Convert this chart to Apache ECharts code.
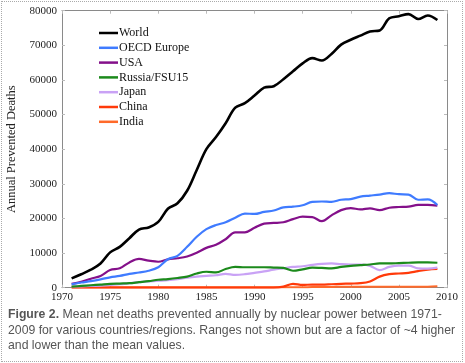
<!DOCTYPE html>
<html>
<head>
<meta charset="utf-8">
<script src="https://cdn.jsdelivr.net/npm/echarts@6/dist/echarts.min.js"></script>
<style>
html,body{margin:0;padding:0;background:#fff;}
#wrap{position:relative;width:465px;height:363px;}
#chart{position:absolute;left:0;top:0;width:465px;height:363px;}
#frame{position:absolute;left:1px;top:1px;width:460px;height:359px;border:1px dotted #aaa;pointer-events:none;}
</style>
</head>
<body>
<div id="wrap"><div id="chart"></div><div id="frame"></div></div>
<script>
var years = [];
for (var y = 1971; y <= 2009; y++) years.push(y);

var world = [2.7,3.9,5.2,7.0,10.2,11.8,14.3,16.8,17.4,19.0,22.8,24.4,28.0,34.0,40.0,43.5,47.5,52.0,53.3,55.5,57.8,58.2,60.2,62.5,64.8,66.3,65.6,67.5,70.2,71.6,72.8,74.0,74.3,77.8,78.4,79.0,77.6,78.6,77.3];
var oecdEurope = [1.0,1.5,1.9,2.4,3.0,3.4,4.0,4.4,4.9,5.9,8.2,9.2,11.8,14.7,16.9,18.1,18.9,20.2,21.4,21.3,21.9,22.3,23.2,23.4,23.8,24.8,24.9,24.8,25.4,25.6,26.3,26.6,26.9,27.3,27.0,26.9,25.4,25.5,23.9];
var usa = [1.1,1.7,2.6,3.4,5.1,5.6,7.3,8.3,7.8,7.5,8.2,8.5,9.0,10.1,11.5,12.4,14.0,16.0,16.0,17.3,18.5,18.7,18.9,19.8,20.5,20.4,19.2,20.9,22.4,23.0,22.6,22.9,22.4,23.1,23.3,23.4,23.9,23.9,23.7];
var russia = [0.3,0.5,0.7,0.9,1.1,1.2,1.3,1.6,1.9,2.3,2.5,2.8,3.2,4.1,4.6,4.4,5.4,6.0,5.9,5.9,5.9,5.8,5.7,4.9,5.3,5.8,5.7,5.6,6.0,6.3,6.5,6.7,7.0,7.0,7.1,7.2,7.3,7.3,7.2];
var japan = [0.3,0.4,0.5,0.6,0.8,1.0,1.3,1.6,1.8,2.0,2.2,2.5,2.9,3.2,3.4,3.6,4.0,3.7,3.9,4.3,4.7,5.2,5.6,6.0,6.2,6.6,6.9,7.0,6.8,6.7,6.7,6.3,5.1,6.0,6.4,6.4,5.6,5.5,5.8];
var china = [0,0,0,0,0,0,0,0,0,0,0,0,0,0,0,0,0,0,0,0,0,0,0.3,1.1,0.8,0.9,0.9,1.0,1.1,1.2,1.3,1.8,3.2,3.9,4.1,4.3,4.8,5.2,5.4];
var india = [0.1,0.1,0.1,0.1,0.1,0.1,0.1,0.1,0.1,0.1,0.1,0.1,0.1,0.1,0.1,0.1,0.1,0.1,0.1,0.1,0.1,0.1,0.1,0.1,0.1,0.2,0.2,0.2,0.3,0.3,0.3,0.3,0.3,0.3,0.3,0.3,0.3,0.3,0.4];

var seriesNames = ['World','OECD Europe','USA','Russia/FSU15','Japan','China','India'];
var seriesValues = [world, oecdEurope, usa, russia, japan, china, india];
var seriesColors = ['#000000','#3f7bff','#84108a','#1c8a1c','#c9a2f5','#ff3a0a','#ff6a2a'];
var seriesWidths = [2.6,2.2,2.2,2.2,2.2,2.2,2.0];

var xTicks = {min:1970, max:2010, interval:5};
var yTicks = {min:0, max:80000, interval:10000};
var caption1 = 'Mean net deaths prevented annually by nuclear power between 1971-';
var caption2 = '2009 for various countries/regions. Ranges not shown but are a factor of ~4 higher';
var caption3 = 'and lower than the mean values.';

var serif = '"Liberation Serif","Times New Roman",serif';
var sans = '"Liberation Sans", Arial, sans-serif';
var axisGray = '#8a8a8a';

function pairs(arr){ return arr.map(function(v,i){ return [years[i], v*1000]; }); }

var series = seriesNames.map(function(n,i){
  return {
    name: n, type:'line', smooth:0.35, symbol:'none',
    data: pairs(seriesValues[i]),
    lineStyle:{color:seriesColors[i], width:seriesWidths[i]},
    itemStyle:{color:seriesColors[i]},
    z: 10 - i
  };
});

var chart = echarts.init(document.getElementById('chart'), null, {renderer:'canvas'});
chart.setOption({
  animation:false,
  backgroundColor:'#fff',
  grid:{left:62, right:18, top:10.7, bottom:75.3, containLabel:false, outerBoundsMode:'none'},
  legend:{
    orient:'vertical', left:94, top:22,
    data:seriesNames,
    icon:'rect', itemWidth:19, itemHeight:2.5, itemGap:2.8,
    textStyle:{fontFamily:serif, fontSize:12, color:'#111', padding:[0,0,0,-4]},
    selectedMode:false
  },
  xAxis:[{
    type:'value', min:xTicks.min, max:xTicks.max, interval:xTicks.interval,
    axisLine:{lineStyle:{color:axisGray, width:1}},
    axisTick:{inside:true, length:3, lineStyle:{color:'#bbb'}},
    axisLabel:{fontFamily:serif, fontSize:11, color:'#222', margin:4, formatter:function(v){return String(v);}},
    splitLine:{show:false}
  },{
    type:'value', position:'top', min:xTicks.min, max:xTicks.max, interval:xTicks.interval,
    axisLine:{show:true, onZero:false, lineStyle:{color:axisGray, width:1}},
    axisTick:{inside:true, length:3, lineStyle:{color:'#bbb'}},
    axisLabel:{show:false}, splitLine:{show:false}
  }],
  yAxis:[{
    type:'value', min:yTicks.min, max:yTicks.max, interval:yTicks.interval,
    name:'Annual Prevented Deaths', nameLocation:'middle', nameGap:40, nameRotate:90,
    nameTextStyle:{fontFamily:serif, fontSize:12.5, color:'#222'},
    axisLine:{show:true, lineStyle:{color:axisGray, width:1}},
    axisTick:{inside:true, length:3, lineStyle:{color:'#bbb'}},
    axisLabel:{fontFamily:serif, fontSize:11, color:'#222', margin:5, formatter:function(v){return String(v);}},
    splitLine:{show:false}
  },{
    type:'value', position:'right', min:yTicks.min, max:yTicks.max, interval:yTicks.interval,
    axisLine:{show:true, onZero:false, lineStyle:{color:axisGray, width:1}},
    axisTick:{inside:true, length:3, lineStyle:{color:'#bbb'}},
    axisLabel:{show:false}, splitLine:{show:false}
  }],
  series: series,
  graphic:[{
    type:'text', left:8, top:307,
    style:{
      text:'{b|Figure 2.} ' + caption1 + '\n' + caption2 + '\n' + caption3,
      font:'12.25px ' + sans,
      fill:'#555', lineHeight:15.5,
      rich:{b:{fontWeight:'bold', fontFamily:sans, fontSize:12.25, fill:'#555', lineHeight:15.5}}
    }
  }]
});
</script>
</body>
</html>
